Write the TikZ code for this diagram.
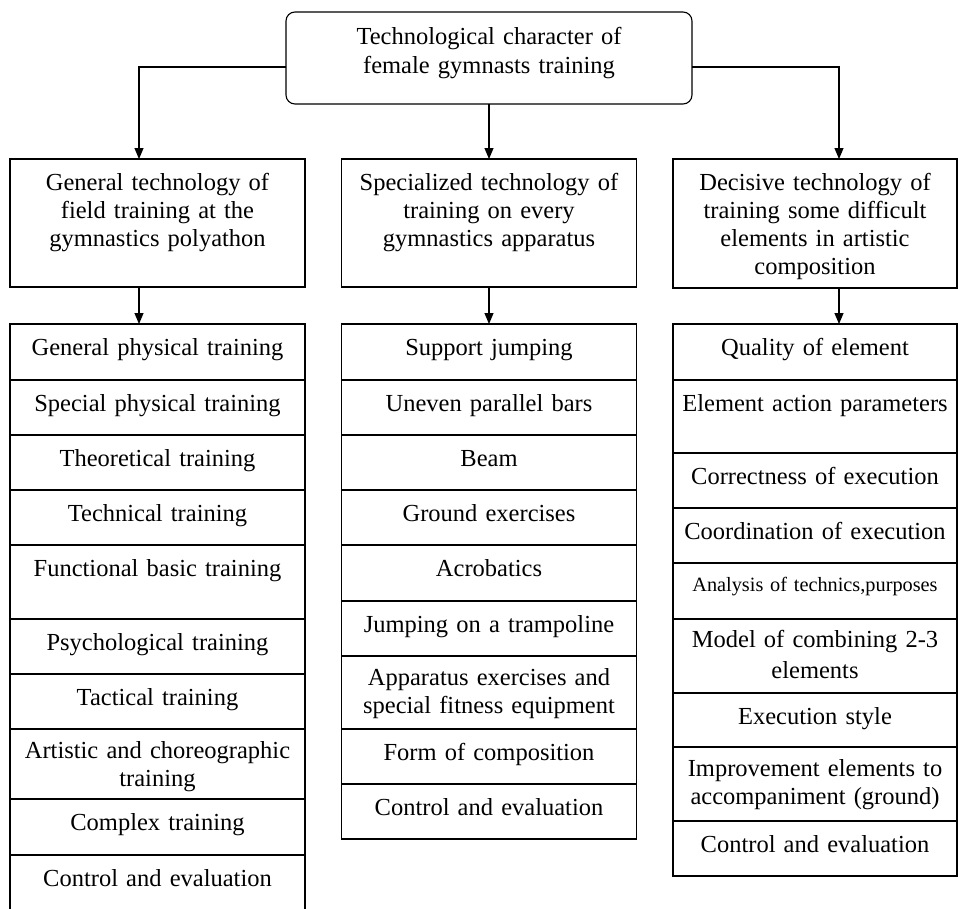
\documentclass[tikz,border=0pt]{standalone}
\usepackage{fontspec}
\setmainfont{Liberation Serif}
\usepackage{tikz}
\usetikzlibrary{arrows.meta,positioning}

\begin{document}
\begin{tikzpicture}[->,>={Triangle[length=11pt,width=9pt]},line width=1.1pt,x=1pt,y=-1pt]
\tikzstyle{cell}=[draw,align=center,inner xsep=2pt,inner ysep=0pt,outer sep=0pt,text height=31pt,font=\fontsize{24.5}{28}\selectfont]
\tikzstyle{colA}=[cell,text width=291pt]
\tikzstyle{colC}=[cell,text width=280pt]
\useasboundingbox[fill=white] (0,0) rectangle (958,908);

\node[cell,rounded corners=9pt,text width=402pt,text height=32.5pt,text depth=59.5pt,anchor=north,font=\fontsize{24.5}{29}\selectfont] (top) at (489,12) {Technological character of\\female gymnasts training};

\node[colA,text depth=97pt,anchor=north] (gen) at (157.5,159) {General technology of\\field training at the\\gymnastics polyathon};
\node[colA,text depth=97pt,anchor=north] (spe) at (489,159) {Specialized technology of\\training on every\\gymnastics apparatus};
\node[colC,text depth=98pt,anchor=north] (dec) at (815,159) {Decisive technology of\\training some difficult\\elements in artistic\\composition};

\node[colA,text depth=25pt,anchor=north] (g1) at (157.5,324) {General physical training};
\node[colA,text depth=24pt,below=0pt of g1] (g2) {Special physical training};
\node[colA,text depth=24pt,below=0pt of g2] (g3) {Theoretical training};
\node[colA,text depth=24pt,below=0pt of g3] (g4) {Technical training};
\node[colA,text depth=43pt,below=0pt of g4] (g5) {Functional basic training};
\node[colA,text depth=24pt,below=0pt of g5] (g6) {Psychological training};
\node[colA,text depth=24pt,below=0pt of g6] (g7) {Tactical training};
\node[colA,text height=29pt,text depth=41pt,below=0pt of g7] (g8) {Artistic and choreographic\\training};
\node[colA,text depth=25pt,below=0pt of g8] (g9) {Complex training};
\node[colA,text depth=24pt,below=0pt of g9] (g10) {Control and evaluation};

\node[colA,text depth=25pt,anchor=north] (s1) at (489,324) {Support jumping};
\node[colA,text depth=24pt,below=0pt of s1] (s2) {Uneven parallel bars};
\node[colA,text depth=24pt,below=0pt of s2] (s3) {Beam};
\node[colA,text depth=24pt,below=0pt of s3] (s4) {Ground exercises};
\node[colA,text depth=25pt,below=0pt of s4] (s5) {Acrobatics};
\node[colA,text depth=24pt,below=0pt of s5] (s6) {Jumping on a trampoline};
\node[colA,text height=29pt,text depth=44pt,below=0pt of s6] (s7) {Apparatus exercises and\\special fitness equipment};
\node[colA,text depth=24pt,below=0pt of s7] (s8) {Form of composition};
\node[colA,text depth=24pt,below=0pt of s8] (s9) {Control and evaluation};

\node[colC,text depth=25pt,anchor=north] (d1) at (815,324) {Quality of element};
\node[colC,text depth=42pt,below=0pt of d1] (d2) {Element action parameters};
\node[colC,text depth=24pt,below=0pt of d2] (d3) {Correctness of execution};
\node[colC,text depth=24pt,below=0pt of d3] (d4) {Coordination of execution};
\node[colC,text height=28pt,text depth=28pt,font=\fontsize{20.3}{24}\selectfont,below=0pt of d4] (d5) {Analysis of technics,purposes};
\node[colC,text height=28pt,text depth=46pt,font=\fontsize{24.5}{31}\selectfont,below=0pt of d5] (d6) {Model of combining 2-3\\elements};
\node[colC,text depth=23pt,below=0pt of d6] (d7) {Execution style};
\node[colC,text height=29pt,text depth=45pt,below=0pt of d7] (d8) {Improvement elements to\\accompaniment (ground)};
\node[colC,text depth=24pt,below=0pt of d8] (d9) {Control and evaluation};

\draw ([yshift=-9pt]top.west) -| ([xshift=-18.5pt]gen.north);
\draw (top.south) -- (top.south |- spe.north);
\draw ([yshift=-9pt]top.east) -| ([xshift=24pt]dec.north);
\draw ([xshift=-18.5pt]gen.south) -- ([xshift=-18.5pt]g1.north);
\draw (spe.south) -- (s1.north);
\draw ([xshift=24pt]dec.south) -- ([xshift=24pt]d1.north);
\end{tikzpicture}
\end{document}
